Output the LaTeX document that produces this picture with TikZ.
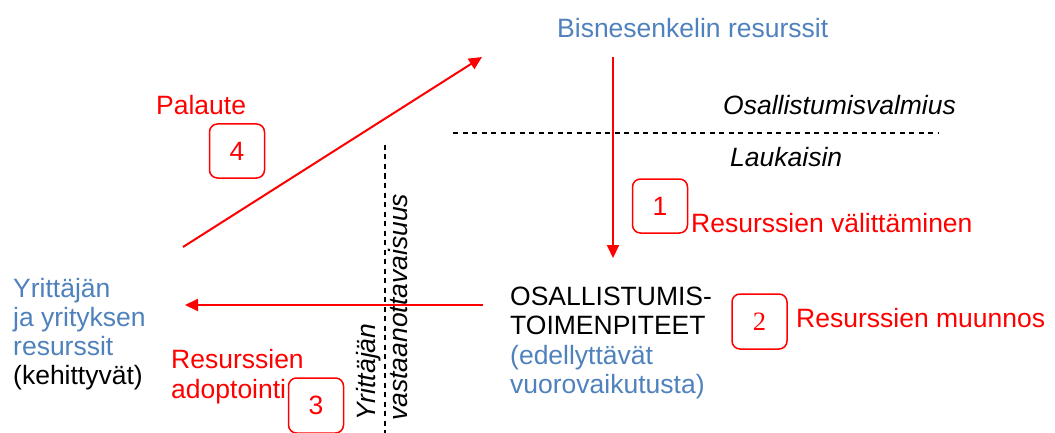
\documentclass[tikz,border=0pt]{standalone}
\usepackage{fontspec}
\setmainfont{Liberation Sans}
\newfontfamily\serifnum{Liberation Serif}
\usetikzlibrary{arrows.meta}
\definecolor{bblue}{RGB}{79,129,189}
\definecolor{rred}{RGB}{255,0,0}
\begin{document}
\begin{tikzpicture}[x=1pt,y=-1pt,
  txt/.style={inner sep=0pt, anchor=base west, font=\fontsize{26.5}{30}\selectfont},
  itxt/.style={txt, font=\fontsize{26.5}{30}\selectfont\itshape},
  numbox/.style={draw=rred, line width=1.5pt, rounded corners=8pt, minimum width=55pt, minimum height=54pt, text=rred, inner sep=0pt, font=\fontsize{26.5}{30}\selectfont},
  flow/.style={draw=rred, line width=2pt, -{Triangle[length=13pt,width=12pt]}},
  sepline/.style={draw=black, line width=1.2pt, dash pattern=on 5pt off 4.5pt}]
\useasboundingbox (0,0) rectangle (1055,433);

% texts
\node[txt, text=bblue] (bis) at (557,38) {Bisnesenkelin resurssit};
\node[itxt] (valm) at (723,115) {Osallistumisvalmius};
\node[itxt] (lauk) at (730,167) {Laukaisin};
\node[txt, text=rred] (valit) at (691,232) {Resurssien välittäminen};
\node[txt] (os1) at (510,305) {OSALLISTUMIS-};
\node[txt] (os2) at (510,334.5) {TOIMENPITEET};
\node[txt, text=bblue] (os3) at (510,364) {(edellyttävät};
\node[txt, text=bblue] (os4) at (510,393) {vuorovaikutusta)};
\node[txt, text=rred] (muun) at (796,327) {Resurssien muunnos};
\node[txt, text=bblue] (y1) at (13,297) {Yrittäjän};
\node[txt, text=bblue] (y2) at (13,326) {ja yrityksen};
\node[txt, text=bblue] (y3) at (13,355) {resurssit};
\node[txt] (y4) at (13,384) {(kehittyvät)};
\node[txt, text=rred] (ad1) at (171,368) {Resurssien};
\node[txt, text=rred] (ad2) at (171,398) {adoptointi};
\node[txt, text=rred] (pal) at (156,115) {Palaute};
\node[itxt, rotate=90] (vast1) at (375,421) {Yrittäjän};
\node[itxt, rotate=90] (vast2) at (407,421) {vastaanottavaisuus};

% numbered boxes
\node[numbox] (b1) at (660,206) {1};
\node[numbox, minimum height=55pt, font=\fontsize{26.5}{30}\serifnum] (b2) at (759.5,321.5) {2};
\node[numbox, minimum height=55pt] (b3) at (316,405.5) {3};
\node[numbox] (b4) at (237,151) {4};

% separators
\coordinate (h1) at (453,133);
\coordinate (h2) at (938,133);
\draw[sepline] (h1) -- (h2);
\coordinate (v1) at (385,145);
\coordinate (v2) at (385,433);
\draw[sepline] (v1) -- (v2);

% flows
\coordinate (d1) at (613,57);
\coordinate (d2) at (613,258);
\draw[flow] (d1) -- (d2);
\coordinate (l1) at (483,305);
\coordinate (l2) at (185,305);
\draw[flow] (l1) -- (l2);
\coordinate (f1) at (183,247);
\coordinate (f2) at (482,57);
\draw[flow] (f1) -- (f2);
\end{tikzpicture}
\end{document}
